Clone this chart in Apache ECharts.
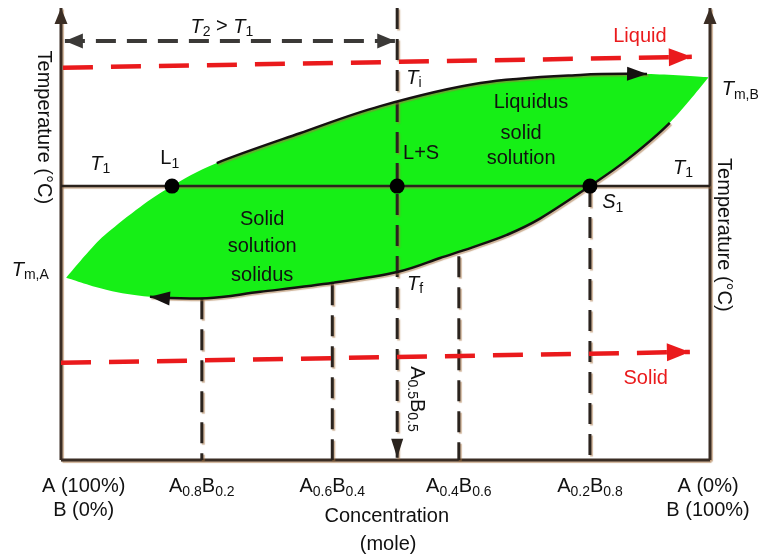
<!DOCTYPE html>
<html><head><meta charset="utf-8">
<script src="https://cdn.jsdelivr.net/npm/echarts@6/dist/echarts.min.js"></script>
<style>html,body{margin:0;padding:0;background:#fff}#c{width:762px;height:557px}</style>
</head><body><div id="c"></div>
<script>
// ---------------- data ----------------
// x: position along the composition axis (0 = pure A, 100 = pure B), y: temperature (arbitrary units, 0..100)
const liquidusX = [0.8, 4.5, 7.1, 12.2, 17.1, 24.0, 36.8, 49.2, 64.6, 80.0, 90.3, 99.7];
const liquidusY = [40.3, 46.5, 50.2, 56.0, 60.6, 65.7, 72.3, 78.3, 83.4, 85.2, 85.4, 84.7];
const solidusX = [0.8, 7.1, 13.7, 22.5, 30.7, 41.9, 51.8, 58.4, 63.5, 68.7, 73.8, 81.5, 87.2, 93.8, 99.7];
const solidusY = [40.3, 37.6, 36.1, 35.8, 37.2, 39.2, 41.6, 44.7, 47.1, 49.8, 53.4, 60.6, 66.4, 74.6, 84.5];
const isothermT1 = 60.6;
const tiePointX = [17.1, 51.8, 81.5];            // L1, L+S, S1
const compositionTickX = [21.7, 41.8, 61.3, 81.5];
const compositionTickA = ['0.8', '0.6', '0.4', '0.2'];
const compositionTickB = ['0.2', '0.4', '0.6', '0.8'];
const solidusAtTickY = [35.8, 38.9, 45.1, 60.6];
const midCompositionX = 51.8;
const midCompositionA = '0.5', midCompositionB = '0.5';
const endLabelX = [3.5, 99.7];
const endLabelA = ['A (100%)', 'A (0%)'];
const endLabelB = ['B (0%)', 'B (100%)'];
const liquidPathX = [0.3, 97.2], liquidPathY = [86.8, 89.2];
const solidPathX = [0.0, 96.9], solidPathY = [21.5, 23.9];
const gapArrowX = [0.6, 51.5], gapArrowY = 92.7;

// ---------------- styles ----------------
const FONT = '"Liberation Sans", Arial, Helvetica, sans-serif';
const INK = '#151110';
const AXIS = '#3a2d24';
const RED = '#ea1a1c';
const GREEN = '#16ef16';
const GRAYK = '#3b3937';
const SHADOW = {shadowColor: 'rgba(165,115,65,0.55)', shadowBlur: 1, shadowOffsetX: 1.5, shadowOffsetY: 1.5};

function crSegments(pts) {
  const segs = [];
  for (let i = 0; i < pts.length - 1; i++) {
    const p0 = pts[Math.max(i - 1, 0)], p1 = pts[i], p2 = pts[i + 1], p3 = pts[Math.min(i + 2, pts.length - 1)];
    segs.push([p1,
      [p1[0] + (p2[0] - p0[0]) / 6, p1[1] + (p2[1] - p0[1]) / 6],
      [p2[0] - (p3[0] - p1[0]) / 6, p2[1] - (p3[1] - p1[1]) / 6], p2]);
  }
  return segs;
}
function segPath(segs, from, to, move) {
  let d = (move ? 'M' : 'L') + segs[from][0][0] + ',' + segs[from][0][1];
  for (let i = from; i < to; i++) {
    const s = segs[i];
    d += ' C' + s[1][0] + ',' + s[1][1] + ' ' + s[2][0] + ',' + s[2][1] + ' ' + s[3][0] + ',' + s[3][1];
  }
  return d;
}
function arrowHead(tip, dir, len, half, fill) {
  const L = Math.hypot(dir[0], dir[1]);
  const ux = dir[0] / L, uy = dir[1] / L;
  const bx = tip[0] - ux * len, by = tip[1] - uy * len;
  return {type: 'polygon', shape: {points: [tip, [bx - uy * half, by + ux * half], [bx + uy * half, by - ux * half]]}, style: {fill: fill}};
}

function renderLens(params, api) {
  const L = liquidusX.map((x, i) => api.coord([x, liquidusY[i]]));
  const S = solidusX.map((x, i) => api.coord([x, solidusY[i]]));
  const Ls = crSegments(L), Sr = crSegments(S.slice().reverse());
  const fillD = segPath(Ls, 0, Ls.length, true) + ' ' + segPath(Sr, 0, Sr.length, false) + ' Z';
  return {type: 'group', children: [
    {type: 'path', shape: {pathData: fillD}, style: {fill: GREEN, stroke: null}}
  ]};
}
function renderOutlines(params, api) {
  const L = liquidusX.map((x, i) => api.coord([x, liquidusY[i]]));
  const S = solidusX.map((x, i) => api.coord([x, solidusY[i]]));
  const Ls = crSegments(L), Ss = crSegments(S);
  const st = Object.assign({fill: null, stroke: INK, lineWidth: 2.5}, SHADOW);
  return {type: 'group', children: [
    {type: 'path', shape: {pathData: segPath(Ls, 5, 10, true)}, style: st},
    {type: 'path', shape: {pathData: segPath(Ss, 2, 13, true)}, style: st},
    arrowHead(L[10], [L[11][0] - L[9][0], L[11][1] - L[9][1]], 20, 7, INK),
    arrowHead(S[2], [S[1][0] - S[3][0], S[1][1] - S[3][1]], 20, 7, INK)
  ]};
}
function renderLines(params, api) {
  const c = (x, y) => api.coord([x, y]);
  const kids = [];
  const line = (a, b, style) => kids.push({type: 'line', shape: {x1: a[0], y1: a[1], x2: b[0], y2: b[1]}, style: Object.assign({fill: null}, style)});
  const axisSt = Object.assign({stroke: AXIS, lineWidth: 3}, SHADOW);
  const isoSt = Object.assign({stroke: '#2a221c', lineWidth: 2.5}, SHADOW);
  const dropSt = Object.assign({stroke: '#2a231e', lineWidth: 3, lineDash: [21, 10]}, SHADOW);
  const gapSt = {stroke: GRAYK, lineWidth: 4, lineDash: [20, 11]};
  const redSt = {stroke: RED, lineWidth: 4.5, lineDash: [30, 18]};
  // axes
  line(c(0, 0), c(0, 100), axisSt);
  line(c(100, 0), c(100, 100), axisSt);
  line(c(0, 0), c(100, 0), axisSt);
  kids.push(arrowHead(c(0, 100), [0, -1], 16, 6.5, AXIS));
  kids.push(arrowHead(c(100, 100), [0, -1], 16, 6.5, AXIS));
  // isotherm T1
  line(c(0, isothermT1), c(100, isothermT1), isoSt);
  // drop lines
  compositionTickX.forEach((x, i) => line(c(x, solidusAtTickY[i]), c(x, 0), dropSt));
  // mid composition line with arrow
  line(c(midCompositionX, 100), c(midCompositionX, 0.5), dropSt);
  kids.push(arrowHead(c(midCompositionX, 0.5), [0, 1], 19, 6, '#2a231e'));
  // T2 > T1 double arrow
  const g0 = c(gapArrowX[0], gapArrowY), g1 = c(gapArrowX[1], gapArrowY);
  line(g0, g1, gapSt);
  kids.push(arrowHead(g0, [-1, 0], 18, 7.5, GRAYK));
  kids.push(arrowHead(g1, [1, 0], 18, 7.5, GRAYK));
  // red paths
  const l0 = c(liquidPathX[0], liquidPathY[0]), l1 = c(liquidPathX[1], liquidPathY[1]);
  line(l0, l1, redSt);
  kids.push(arrowHead(l1, [l1[0] - l0[0], l1[1] - l0[1]], 23, 9, RED));
  const s0 = c(solidPathX[0], solidPathY[0]), s1 = c(solidPathX[1], solidPathY[1]);
  line(s0, s1, redSt);
  kids.push(arrowHead(s1, [s1[0] - s0[0], s1[1] - s0[1]], 23, 9, RED));
  return {type: 'group', children: kids};
}

const rich = {
  n: {fontSize: 20, fontFamily: FONT, fill: '#111', lineHeight: 24},
  it: {fontSize: 20, fontFamily: FONT, fontStyle: 'italic', fill: '#111', lineHeight: 24},
  sub: {fontSize: 14, fontFamily: FONT, fill: '#111', lineHeight: 12, verticalAlign: 'bottom'},
  r: {fontSize: 20, fontFamily: FONT, fill: RED, lineHeight: 24}
};
const N = s => '{n|' + s + '}', I = s => '{it|' + s + '}', Sb = s => '{sub|' + s + '}', R = s => '{r|' + s + '}';

const notes = [
  [24.8, 95.8, I('T') + Sb('2') + N(' > ') + I('T') + Sb('1'), 'center'],
  [89.2, 93.8, R('Liquid'), 'center'],
  [53.2, 84.5, I('T') + Sb('i'), 'left'],
  [72.4, 79.0, N('Liquidus'), 'center'],
  [70.9, 72.3, N('solid'), 'center'],
  [70.9, 66.7, N('solution'), 'center'],
  [52.7, 67.9, N('L+S'), 'left'],
  [94.3, 64.6, I('T') + Sb('1'), 'left'],
  [101.8, 81.9, I('T') + Sb('m,B'), 'left'],
  [4.5, 65.5, I('T') + Sb('1'), 'left'],
  [15.3, 66.6, N('L') + Sb('1'), 'left'],
  [83.4, 56.9, I('S') + Sb('1'), 'left'],
  [31.0, 53.3, N('Solid'), 'center'],
  [31.0, 47.3, N('solution'), 'center'],
  [31.0, 40.8, N('solidus'), 'center'],
  [53.3, 38.9, I('T') + Sb('f'), 'left'],
  [-7.6, 42.0, I('T') + Sb('m,A'), 'left'],
  [90.1, 18.1, R('Solid'), 'center'],
  [54.8, 13.5, N('A') + Sb(midCompositionA) + N('B') + Sb(midCompositionB), 'center', -90],
  [-2.7, 73.6, N('Temperature (°C)'), 'center', -90],
  [102.1, 49.8, N('Temperature (°C)'), 'center', -90],
  [50.2, -12.6, N('Concentration'), 'center'],
  [50.4, -18.6, N('(mole)'), 'center']
];
compositionTickX.forEach((x, i) => notes.push([x, -5.9, N('A') + Sb(compositionTickA[i]) + N('B') + Sb(compositionTickB[i]), 'center']));
endLabelX.forEach((x, i) => {
  notes.push([x, -5.9, N(endLabelA[i]), 'center']);
  notes.push([x, -11.2, N(endLabelB[i]), 'center']);
});

function renderTexts(params, api) {
  return {type: 'group', children: notes.map(nt => {
    const p = api.coord([nt[0], nt[1]]);
    return {type: 'text', x: p[0], y: p[1], rotation: nt[4] ? nt[4] * Math.PI / 180 : 0,
      style: {text: nt[2], x: 0, y: 0, align: nt[3], verticalAlign: 'middle', rich: rich,
        fontSize: 20, fontFamily: FONT, fill: '#111'}};
  })};
}

const chart = echarts.init(document.getElementById('c'), null, {renderer: 'canvas'});
chart.setOption({
  animation: false,
  backgroundColor: '#fff',
  grid: {left: 61, right: 52, top: 8, bottom: 97, containLabel: false, outerBoundsMode: 'none'},
  xAxis: {type: 'value', min: 0, max: 100, show: false},
  yAxis: {type: 'value', min: 0, max: 100, show: false},
  series: [
    {type: 'custom', name: 'lens', renderItem: renderLens, data: [[0, 0]], z: 1, silent: true},
    {type: 'custom', name: 'lines', renderItem: renderLines, data: [[0, 0]], z: 2, silent: true},
    {type: 'custom', name: 'outlines', renderItem: renderOutlines, data: [[0, 0]], z: 3, silent: true},
    {type: 'scatter', name: 'points', data: tiePointX.map(x => [x, isothermT1]), symbolSize: 15,
      itemStyle: {color: '#000', opacity: 1}, z: 4, silent: true},
    {type: 'custom', name: 'texts', renderItem: renderTexts, data: [[0, 0]], z: 5, silent: true}
  ]
});
</script></body></html>
